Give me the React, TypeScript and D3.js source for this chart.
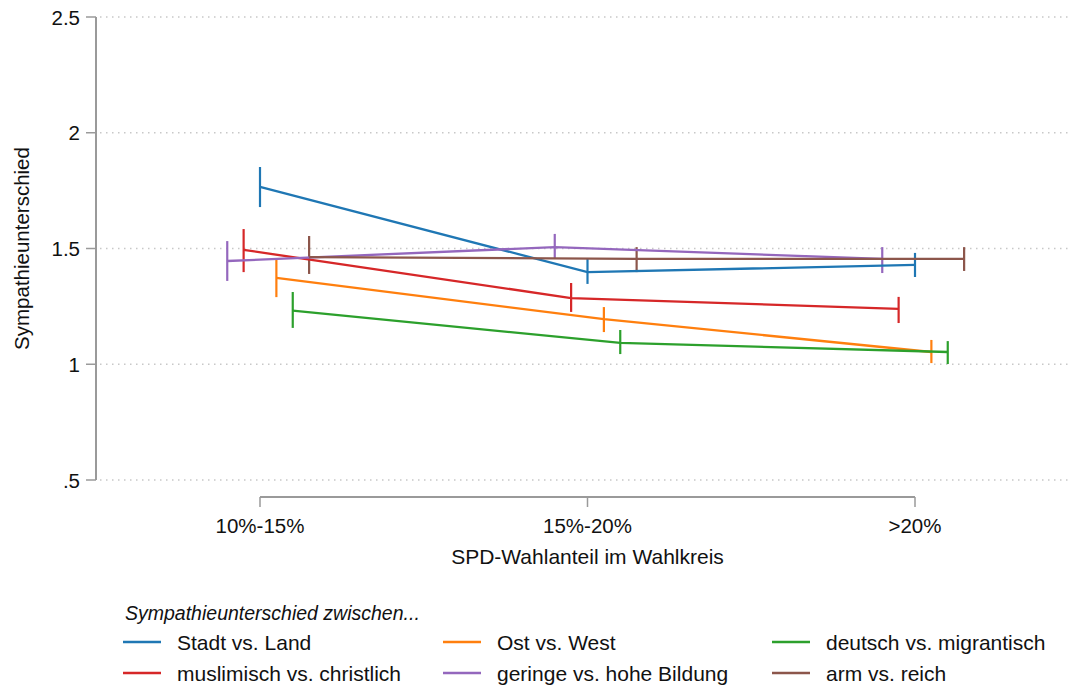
import React from "react";
import * as d3 from "d3";

const categories = ["10%-15%", "15%-20%", ">20%"];
const yTicks = [0.5, 1, 1.5, 2, 2.5];
const yTickLabels = [".5", "1", "1.5", "2", "2.5"];

const seriesNames = [
  "Stadt vs. Land",
  "Ost vs. West",
  "deutsch vs. migrantisch",
  "muslimisch vs. christlich",
  "geringe vs. hohe Bildung",
  "arm vs. reich",
];
const seriesColors = ["#1f77b4", "#ff7f0e", "#2ca02c", "#d62728", "#9467bd", "#8c564b"];
const seriesOffsets = [0, 0.05, 0.1, -0.05, -0.1, 0.15];

const stadtMean = [1.766, 1.398, 1.429];
const stadtLo = [1.679, 1.347, 1.377];
const stadtHi = [1.852, 1.455, 1.481];

const ostMean = [1.373, 1.195, 1.053];
const ostLo = [1.29, 1.139, 1.005];
const ostHi = [1.455, 1.247, 1.105];

const deutschMean = [1.232, 1.092, 1.053];
const deutschLo = [1.157, 1.044, 1.001];
const deutschHi = [1.312, 1.148, 1.1];

const muslimMean = [1.494, 1.286, 1.239];
const muslimLo = [1.398, 1.226, 1.178];
const muslimHi = [1.584, 1.351, 1.291];

const bildungMean = [1.446, 1.506, 1.455];
const bildungLo = [1.36, 1.455, 1.394];
const bildungHi = [1.532, 1.563, 1.506];

const armMean = [1.463, 1.455, 1.455];
const armLo = [1.39, 1.398, 1.403];
const armHi = [1.554, 1.506, 1.506];

const means = [stadtMean, ostMean, deutschMean, muslimMean, bildungMean, armMean];
const lows = [stadtLo, ostLo, deutschLo, muslimLo, bildungLo, armLo];
const highs = [stadtHi, ostHi, deutschHi, muslimHi, bildungHi, armHi];

const W = 1071;
const H = 688;
const FONT = "'Liberation Sans', Arial, sans-serif";

export default function App() {
  const x = d3.scaleLinear().domain([1, 3]).range([260, 915]);
  const y = d3.scaleLinear().domain([0.5, 2.5]).range([480, 17]);
  const axisColor = "#9a9a9a";
  const textColor = "#111";

  const line = d3
    .line<[number, number]>()
    .x((d) => d[0])
    .y((d) => d[1]);

  const legendCols = [123, 443, 772];
  const legendRows = [642, 673];

  return (
    <svg
      width={W}
      height={H}
      style={{ position: "absolute", left: 0, top: 0, background: "#fff" }}
      fontFamily={FONT}
    >
      <rect x={0} y={0} width={W} height={H} fill="#fff" />
      {yTicks.map((t, i) => (
        <line
          key={"g" + i}
          x1={100}
          x2={W}
          y1={y(t)}
          y2={y(t)}
          stroke="#c8c8c8"
          strokeWidth={1.3}
          strokeDasharray="1.5 4.5"
        />
      ))}
      <line x1={96} x2={96} y1={y(2.5)} y2={y(0.5)} stroke={axisColor} strokeWidth={2} />
      {yTicks.map((t, i) => (
        <g key={"yt" + i}>
          <line x1={86} x2={96} y1={y(t)} y2={y(t)} stroke={axisColor} strokeWidth={1.5} />
          <text
            x={80}
            y={y(t)}
            textAnchor="end"
            dominantBaseline="central"
            fontSize={20.5}
            fill={textColor}
          >
            {yTickLabels[i]}
          </text>
        </g>
      ))}
      <text
        transform={`translate(21,${y(1.5)}) rotate(-90)`}
        textAnchor="middle"
        dominantBaseline="central"
        fontSize={20.5}
        fill={textColor}
      >
        Sympathieunterschied
      </text>
      <line x1={x(1)} x2={x(3)} y1={497} y2={497} stroke={axisColor} strokeWidth={2} />
      {categories.map((c, i) => (
        <g key={"xt" + i}>
          <line x1={x(i + 1)} x2={x(i + 1)} y1={497} y2={507} stroke={axisColor} strokeWidth={1.5} />
          <text
            x={x(i + 1)}
            y={525}
            textAnchor="middle"
            dominantBaseline="central"
            fontSize={20.5}
            fill={textColor}
          >
            {c}
          </text>
        </g>
      ))}
      <text
        x={x(2)}
        y={556}
        textAnchor="middle"
        dominantBaseline="central"
        fontSize={21}
        fill={textColor}
      >
        SPD-Wahlanteil im Wahlkreis
      </text>
      {means.map((m, s) =>
        m.map((_, i) => (
          <line
            key={`ci${s}-${i}`}
            x1={x(i + 1 + seriesOffsets[s])}
            x2={x(i + 1 + seriesOffsets[s])}
            y1={y(lows[s][i])}
            y2={y(highs[s][i])}
            stroke={seriesColors[s]}
            strokeWidth={2.2}
          />
        ))
      )}
      {means.map((m, s) => (
        <path
          key={"l" + s}
          d={line(m.map((v, i) => [x(i + 1 + seriesOffsets[s]), y(v)] as [number, number])) || ""}
          fill="none"
          stroke={seriesColors[s]}
          strokeWidth={2.3}
        />
      ))}
      <text x={125} y={613} dominantBaseline="central" fontSize={19.5} fontStyle="italic" fill={textColor}>
        Sympathieunterschied zwischen...
      </text>
      {seriesNames.map((n, s) => {
        const col = s % 3;
        const row = Math.floor(s / 3);
        const lx = legendCols[col];
        const ly = legendRows[row];
        return (
          <g key={"lg" + s}>
            <line x1={lx} x2={lx + 38} y1={ly} y2={ly} stroke={seriesColors[s]} strokeWidth={2.5} />
            <text x={lx + 54} y={ly} dominantBaseline="central" fontSize={21} fill={textColor}>
              {n}
            </text>
          </g>
        );
      })}
    </svg>
  );
}
